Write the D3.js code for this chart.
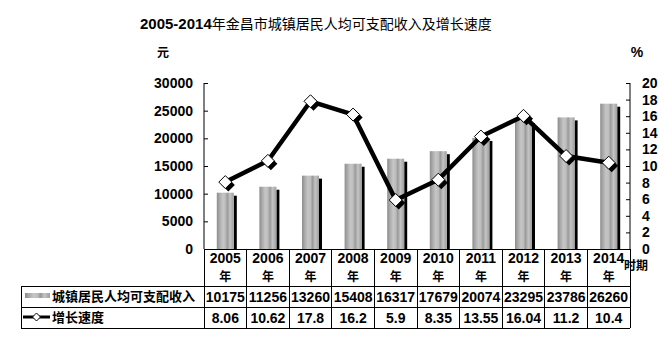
<!DOCTYPE html>
<html><head><meta charset="utf-8">
<script src="https://cdn.jsdelivr.net/npm/d3@7"></script>
<style>
body{margin:0;background:#fff;}
svg{display:block;}
</style></head>
<body>
<script>
const years = ["2005","2006","2007","2008","2009","2010","2011","2012","2013","2014"];
const income = [10175,11256,13260,15408,16317,17679,20074,23295,23786,26260];
const growth = [8.06,10.62,17.8,16.2,5.9,8.35,13.55,16.04,11.2,10.4];
const incomeTicks = [0,5000,10000,15000,20000,25000,30000];
const growthTicks = [0,2,4,6,8,10,12,14,16,18,20];
const growthLabels = ["8.06","10.62","17.8","16.2","5.9","8.35","13.55","16.04","11.2","10.4"];
const seriesNames = ["城镇居民人均可支配收入","增长速度"];
const title = ["2005-2014","年金昌市城镇居民人均可支配收入及增长速度"];

const W = 666, H = 350;
const plotL = 204, plotR = 630, plotT = 83, plotB = 249;
const numFont = "'Liberation Sans',Arial,sans-serif";
const cjkFont = "'Noto Sans CJK SC',sans-serif";

const svg = d3.select("body").append("svg").attr("width", W).attr("height", H);

const x = d3.scaleBand().domain(years).range([plotL, plotR]);
const y = d3.scaleLinear().domain([0,30000]).range([plotB, plotT]);
const y2 = d3.scaleLinear().domain([0,20]).range([plotB, plotT]);

// bar gradient
const defs = svg.append("defs");
const g = defs.append("linearGradient").attr("id","barGrad").attr("x1","0").attr("x2","1").attr("y1","0").attr("y2","0");
[[0,"#8c8c8c"],[0.15,"#a8a8a8"],[0.35,"#c6c6c6"],[0.5,"#bdbdbd"],[0.62,"#9a9a9a"],[0.78,"#c4c4c4"],[1,"#9e9e9e"]]
  .forEach(([o,c]) => g.append("stop").attr("offset",o).attr("stop-color",c));

// title
const t = svg.append("text").attr("x", 140).attr("y", 29);
t.append("tspan").attr("font-family", numFont).attr("font-weight","bold").attr("font-size",15).text(title[0]);
t.append("tspan").attr("font-family", cjkFont).attr("font-weight", 400).attr("font-size",14).text(title[1]);

// unit labels
svg.append("text").attr("x",163).attr("y",57).attr("text-anchor","middle")
  .attr("font-family",cjkFont).attr("font-weight","bold").attr("font-size",12).text("元");
svg.append("text").attr("x",637).attr("y",57).attr("text-anchor","middle")
  .attr("font-family",numFont).attr("font-weight","bold").attr("font-size",14).text("%");

// bars with shadow
const bw = 17, bx = (x.bandwidth() - bw)/2;
svg.append("g").selectAll("rect").data(income).join("rect")
  .attr("x",(d,i)=>x(years[i])+bx+bw).attr("y",d=>y(d)+3)
  .attr("width",3).attr("height",d=>plotB-y(d)-3).attr("fill","#000");
svg.append("g").selectAll("rect").data(income).join("rect")
  .attr("x",(d,i)=>x(years[i])+bx).attr("y",d=>y(d))
  .attr("width",bw).attr("height",d=>plotB-y(d)).attr("fill","url(#barGrad)");

// axes
const axL = d3.axisLeft(y).tickValues(incomeTicks).tickFormat(d3.format("d")).tickSize(-4).tickPadding(11);
const gL = svg.append("g").attr("transform",`translate(${plotL},0)`).call(axL);
const axR = d3.axisRight(y2).tickValues(growthTicks).tickFormat(d3.format("d")).tickSize(-4).tickPadding(12);
const gR = svg.append("g").attr("transform",`translate(${plotR},0)`).call(axR);
[gL,gR].forEach(a=>{
  a.select(".domain").attr("stroke","#000").attr("d", `M0,${plotT}V${plotB}`);
  a.selectAll(".tick line").attr("stroke","#000");
  a.selectAll(".tick text").attr("font-family",numFont).attr("font-weight","bold").attr("font-size",14).attr("fill","#000");
});

// growth line
const pts = growth.map((v,i)=>[x(years[i])+x.bandwidth()/2, y2(v)]);
svg.append("path").attr("d", d3.line()(pts)).attr("fill","none").attr("stroke","#000").attr("stroke-width",4.5).attr("stroke-linejoin","miter");
const dia = (cx,cy,r)=>`M${cx},${cy-r}L${cx+r},${cy}L${cx},${cy+r}L${cx-r},${cy}Z`;
svg.append("g").selectAll("path").data(pts).join("path")
  .attr("d",p=>dia(p[0]+3,p[1]+3,6.5)).attr("fill","#000");
svg.append("g").selectAll("path").data(pts).join("path")
  .attr("d",p=>dia(p[0],p[1],6.5)).attr("fill","#fff").attr("stroke","#000").attr("stroke-width",1);

// data table
const row1 = 286, row2 = 307, row3 = 328, tLeft = 21;
const tb = svg.append("g").attr("stroke","#000").attr("stroke-width",1).attr("shape-rendering","crispEdges");
tb.append("line").attr("x1",plotL).attr("x2",plotR).attr("y1",plotB).attr("y2",plotB);
[row1,row2,row3].forEach(r=>tb.append("line").attr("x1",tLeft).attr("x2",plotR).attr("y1",r).attr("y2",r));
tb.append("line").attr("x1",tLeft).attr("x2",tLeft).attr("y1",row1).attr("y2",row3);
years.forEach(yr=>tb.append("line").attr("x1",x(yr)).attr("x2",x(yr)).attr("y1",plotB).attr("y2",row3));
tb.append("line").attr("x1",plotR).attr("x2",plotR).attr("y1",plotB).attr("y2",row3);

const cx = yr => x(yr)+x.bandwidth()/2;
svg.append("g").selectAll("text").data(years).join("text")
  .attr("x",cx).attr("y",263).attr("text-anchor","middle")
  .attr("font-family",numFont).attr("font-weight","bold").attr("font-size",14).text(d=>d);
svg.append("g").selectAll("text").data(years).join("text")
  .attr("x",cx).attr("y",281).attr("text-anchor","middle")
  .attr("font-family",cjkFont).attr("font-weight","bold").attr("font-size",12).text("年");
svg.append("text").attr("x",636).attr("y",270).attr("text-anchor","middle")
  .attr("font-family",cjkFont).attr("font-weight","bold").attr("font-size",12).text("时期");

svg.append("g").selectAll("text").data(income).join("text")
  .attr("x",(d,i)=>cx(years[i])).attr("y",302).attr("text-anchor","middle")
  .attr("font-family",numFont).attr("font-weight","bold").attr("font-size",14).text(d=>d);
svg.append("g").selectAll("text").data(growthLabels).join("text")
  .attr("x",(d,i)=>cx(years[i])).attr("y",323).attr("text-anchor","middle")
  .attr("font-family",numFont).attr("font-weight","bold").attr("font-size",14).text(d=>d);

// legend keys in the table
svg.append("rect").attr("x",25).attr("y",293).attr("width",25).attr("height",5).attr("fill","url(#barGrad)");
svg.append("line").attr("x1",23).attr("x2",50).attr("y1",317).attr("y2",317).attr("stroke","#000").attr("stroke-width",3);
svg.append("path").attr("d",dia(36.5,317,4)).attr("fill","#fff").attr("stroke","#000");
svg.append("text").attr("x",52).attr("y",301).attr("font-family",cjkFont).attr("font-weight","bold").attr("font-size",13).text(seriesNames[0]);
svg.append("text").attr("x",52).attr("y",322).attr("font-family",cjkFont).attr("font-weight","bold").attr("font-size",13).text(seriesNames[1]);
</script>
</body></html>
